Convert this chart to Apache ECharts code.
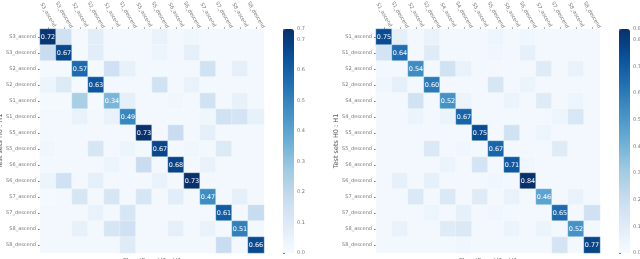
<!DOCTYPE html>
<html>
<head>
<meta charset="utf-8">
<script src="https://cdn.jsdelivr.net/npm/echarts@6/dist/echarts.min.js"></script>
<style>html,body{margin:0;padding:0;background:#fff}#c{width:640px;height:259px}</style>
</head>
<body>
<div id="c"></div>
<script>
// Categories
var leftLabels = ['S3_ascend','S3_descend','S2_ascend','S2_descend','S1_ascend','S1_descend','S5_ascend','S5_descend','S6_ascend','S6_descend','S7_ascend','S7_descend','S8_ascend','S8_descend'];
var rightLabels = ['S1_ascend','S1_descend','S2_ascend','S2_descend','S4_ascend','S4_descend','S5_ascend','S5_descend','S6_ascend','S6_descend','S7_ascend','S7_descend','S8_ascend','S8_descend'];

// Left matrix rows (test set) x columns (classifier)
var leftRow0  = [0.72,0.15,0.01,0.08,0.02,0.02,0.02,0.05,0.02,0.03,0.02,0.02,0.02,0.02];
var leftRow1  = [0.17,0.67,0.01,0.08,0.02,0.02,0.02,0.04,0.02,0.07,0.02,0.02,0.02,0.02];
var leftRow2  = [0.01,0.01,0.57,0.01,0.15,0.06,0.02,0.02,0.02,0.02,0.14,0.02,0.07,0.02];
var leftRow3  = [0.04,0.10,0.01,0.63,0.02,0.02,0.02,0.14,0.02,0.05,0.02,0.02,0.02,0.02];
var leftRow4  = [0.01,0.01,0.25,0.01,0.34,0.07,0.02,0.02,0.03,0.02,0.14,0.02,0.06,0.02];
var leftRow5  = [0.02,0.02,0.05,0.02,0.05,0.49,0.02,0.02,0.02,0.02,0.03,0.14,0.13,0.06];
var leftRow6  = [0.02,0.02,0.02,0.02,0.02,0.02,0.73,0.02,0.17,0.02,0.07,0.02,0.02,0.02];
var leftRow7  = [0.03,0.02,0.02,0.12,0.02,0.04,0.02,0.67,0.02,0.03,0.02,0.10,0.02,0.02];
var leftRow8  = [0.02,0.02,0.02,0.02,0.04,0.02,0.17,0.02,0.68,0.02,0.05,0.02,0.02,0.02];
var leftRow9  = [0.04,0.15,0.02,0.07,0.02,0.02,0.02,0.05,0.02,0.73,0.02,0.02,0.02,0.02];
var leftRow10 = [0.01,0.02,0.12,0.02,0.12,0.02,0.12,0.02,0.08,0.02,0.47,0.02,0.07,0.02];
var leftRow11 = [0.02,0.02,0.02,0.05,0.02,0.12,0.02,0.02,0.02,0.02,0.02,0.61,0.02,0.18];
var leftRow12 = [0.02,0.02,0.06,0.02,0.12,0.15,0.02,0.02,0.07,0.02,0.05,0.02,0.51,0.02];
var leftRow13 = [0.02,0.02,0.02,0.02,0.02,0.09,0.02,0.02,0.02,0.02,0.02,0.17,0.02,0.66];
var leftMatrix = [leftRow0,leftRow1,leftRow2,leftRow3,leftRow4,leftRow5,leftRow6,leftRow7,leftRow8,leftRow9,leftRow10,leftRow11,leftRow12,leftRow13];

// Right matrix
var rightRow0  = [0.75,0.08,0.02,0.06,0.02,0.02,0.02,0.04,0.02,0.03,0.02,0.02,0.02,0.02];
var rightRow1  = [0.15,0.64,0.02,0.10,0.02,0.02,0.02,0.03,0.02,0.07,0.02,0.02,0.02,0.02];
var rightRow2  = [0.02,0.02,0.54,0.02,0.16,0.06,0.02,0.02,0.02,0.02,0.10,0.02,0.06,0.02];
var rightRow3  = [0.03,0.08,0.02,0.60,0.02,0.02,0.02,0.14,0.02,0.05,0.02,0.02,0.02,0.02];
var rightRow4  = [0.02,0.02,0.16,0.02,0.52,0.05,0.02,0.02,0.05,0.02,0.10,0.02,0.04,0.02];
var rightRow5  = [0.02,0.02,0.05,0.02,0.05,0.67,0.02,0.02,0.02,0.02,0.02,0.04,0.13,0.02];
var rightRow6  = [0.02,0.02,0.02,0.02,0.02,0.02,0.75,0.02,0.16,0.02,0.04,0.02,0.02,0.02];
var rightRow7  = [0.02,0.02,0.02,0.12,0.02,0.03,0.02,0.67,0.02,0.02,0.02,0.10,0.02,0.02];
var rightRow8  = [0.02,0.02,0.02,0.02,0.05,0.02,0.15,0.02,0.71,0.03,0.02,0.02,0.02,0.02];
var rightRow9  = [0.02,0.07,0.02,0.07,0.02,0.02,0.02,0.03,0.02,0.84,0.02,0.02,0.02,0.02];
var rightRow10 = [0.02,0.02,0.12,0.02,0.12,0.02,0.10,0.02,0.06,0.02,0.46,0.02,0.06,0.02];
var rightRow11 = [0.02,0.02,0.02,0.04,0.02,0.07,0.02,0.03,0.02,0.02,0.02,0.65,0.02,0.17];
var rightRow12 = [0.02,0.06,0.02,0.02,0.10,0.12,0.02,0.02,0.05,0.02,0.05,0.02,0.52,0.02];
var rightRow13 = [0.02,0.02,0.02,0.02,0.02,0.03,0.02,0.02,0.02,0.02,0.02,0.15,0.02,0.77];
var rightMatrix = [rightRow0,rightRow1,rightRow2,rightRow3,rightRow4,rightRow5,rightRow6,rightRow7,rightRow8,rightRow9,rightRow10,rightRow11,rightRow12,rightRow13];

var leftMax = 0.735, rightMax = 0.84;
var xTitle = 'Classifiers H0 : H1';
var yTitle = 'Test sets H0 : H1';

var blues = ['#f7fbff','#deebf7','#c6dbef','#9ecae1','#6baed6','#4292c6','#2171b5','#08519c','#08306b'];

function toData(m){
  var out = [];
  for (var r = 0; r < m.length; r++) {
    for (var c = 0; c < m[r].length; c++) {
      var item = {value: [c, r, m[r][c]]};
      if (r === c) {
        item.label = {show: true};
      }
      out.push(item);
    }
  }
  return out;
}

var tickFont = {fontSize: 5, color: '#777', fontFamily: 'DejaVu Sans'};

function makeX(gi, labels){
  return {
    type: 'category', gridIndex: gi, data: labels, position: 'top',
    axisLine: {show: false}, splitLine: {show: false},
    axisTick: {show: true, alignWithLabel: true, length: 1.5, lineStyle: {color: '#777'}},
    axisLabel: Object.assign({rotate: 60, margin: 14, interval: 0, align: 'center', verticalAlign: 'middle'}, tickFont)
  };
}
function makeXb(gi, labels){
  return {
    type: 'category', gridIndex: gi, data: labels, position: 'bottom',
    axisLine: {show: false}, splitLine: {show: false},
    axisTick: {show: false}, axisLabel: {show: false},
    name: xTitle, nameLocation: 'middle', nameGap: 5, nameMoveOverlap: false,
    nameTextStyle: {fontSize: 6.5, color: '#555', fontFamily: 'DejaVu Sans'}
  };
}
function makeY(gi, labels){
  return {
    type: 'category', gridIndex: gi, data: labels, inverse: true,
    axisLine: {show: false}, splitLine: {show: false},
    axisTick: {show: true, alignWithLabel: true, length: 2, lineStyle: {color: '#777'}},
    axisLabel: Object.assign({margin: 4, interval: 0}, tickFont),
    name: yTitle, nameLocation: 'middle', nameGap: 36, nameRotate: 90, nameMoveOverlap: false,
    nameTextStyle: {fontSize: 6.5, color: '#555', fontFamily: 'DejaVu Sans'}
  };
}
function makeCbAxis(gi, max){
  return {
    type: 'value', gridIndex: gi, min: 0, max: max, interval: 0.1, position: 'right',
    axisLine: {show: false}, splitLine: {show: false},
    axisTick: {show: true, length: 2, lineStyle: {color: '#777'}},
    axisLabel: {fontSize: 5, color: '#777', margin: 3, fontFamily: 'DejaVu Sans',
      formatter: function(v){ return v.toFixed(1); }}
  };
}

var chart = echarts.init(document.getElementById('c'), null, {renderer: 'canvas'});
chart.setOption({
  animation: false,
  backgroundColor: '#fff',
  grid: [
    {left: 40, top: 29, width: 224, height: 224, outerBoundsMode: 'none', containLabel: false},
    {left: 376, top: 29, width: 224, height: 224, outerBoundsMode: 'none', containLabel: false},
    {left: 283, top: 29, width: 11, height: 224, outerBoundsMode: 'none', containLabel: false},
    {left: 619, top: 29, width: 11, height: 224, outerBoundsMode: 'none', containLabel: false}
  ],
  xAxis: [
    makeX(0, leftLabels), makeX(1, rightLabels),
    {type: 'value', gridIndex: 2, show: false},
    {type: 'value', gridIndex: 3, show: false},
    makeXb(0, leftLabels), makeXb(1, rightLabels)
  ],
  yAxis: [
    makeY(0, leftLabels), makeY(1, rightLabels),
    makeCbAxis(2, leftMax), makeCbAxis(3, rightMax)
  ],
  visualMap: [
    {type: 'continuous', seriesIndex: 0, min: 0, max: leftMax, calculable: false,
     inRange: {color: blues}, left: 283, top: 29, itemWidth: 11, itemHeight: 224,
     padding: 0, text: null, showLabel: false, orient: 'vertical'},
    {type: 'continuous', seriesIndex: 1, min: 0, max: rightMax, calculable: false,
     inRange: {color: blues}, left: 619, top: 29, itemWidth: 11, itemHeight: 224,
     padding: 0, text: null, showLabel: false, orient: 'vertical'}
  ],
  series: [
    {type: 'heatmap', xAxisIndex: 0, yAxisIndex: 0, data: toData(leftMatrix),
     itemStyle: {borderColor: 'rgba(255,255,255,0.6)', borderWidth: 0.5},
     label: {show: false, color: '#fff', fontSize: 6.5, fontFamily: 'DejaVu Sans',
       formatter: function(p){ return p.value[2].toFixed(2); }},
     emphasis: {disabled: true}},
    {type: 'heatmap', xAxisIndex: 1, yAxisIndex: 1, data: toData(rightMatrix),
     itemStyle: {borderColor: 'rgba(255,255,255,0.6)', borderWidth: 0.5},
     label: {show: false, color: '#fff', fontSize: 6.5, fontFamily: 'DejaVu Sans',
       formatter: function(p){ return p.value[2].toFixed(2); }},
     emphasis: {disabled: true}}
  ]
});
</script>
</body>
</html>
